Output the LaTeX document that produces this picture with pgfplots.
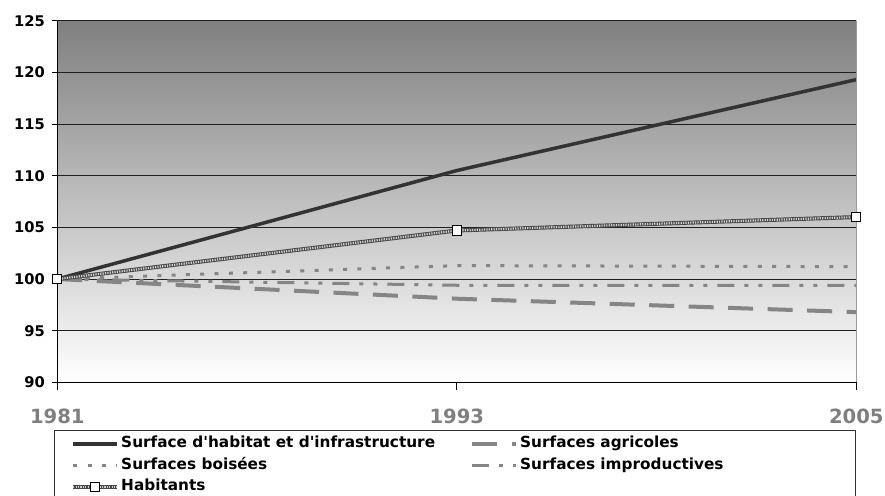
\documentclass[border=0pt]{standalone}
\usepackage{fontspec}
\setmainfont{DejaVu Sans}[Ligatures=TeXOff]
\usepackage{pgfplots}
\pgfplotsset{compat=1.18}

\definecolor{lineDark}{HTML}{333333}
\definecolor{lineGray}{HTML}{858585}
\definecolor{tickGray}{HTML}{7F7F7F}

\tikzset{
  habline/.style={black!72, line width=4bp,
    postaction={draw, gray!35, line width=2.2bp, dash pattern=on 1.2bp off 1.2bp}},
  habmark/.style={mark=square*, mark size=4.6bp,
    mark options={solid, fill=white, draw=black, line width=0.9bp}},
}

\begin{document}
\begin{tikzpicture}
\begin{axis}[
  at={(0,0)}, anchor=south west,
  scale only axis, width=799bp, height=361.7bp,
  xmin=1981, xmax=2005, ymin=90, ymax=125,
  xtick={1981,1993,2005}, xticklabels={1981,1993,2005},
  ytick={90,95,...,125},
  axis x line*=bottom, axis y line*=left,
  axis line style={black, line width=1bp},
  tick align=outside,
  major tick length=5bp,
  xtick style={black, line width=0.9bp, /pgfplots/major tick length=8bp},
  ytick style={black, line width=0.9bp},
  ymajorgrids,
  major grid style={black!88, line width=0.9bp},
  axis background/.style={shade, top color=black!50, bottom color=white},
  /pgf/number format/assume math mode=true,
  yticklabel style={font=\bfseries\fontsize{14.7bp}{16bp}\selectfont, xshift=-4bp},
  xticklabel style={font=\bfseries\fontsize{19.6bp}{22bp}\selectfont, text=tickGray, yshift=-18bp},
  clip=false,
  legend columns=2,
  legend cell align=left,
  legend image code/.code={\draw[mark repeat=2,mark phase=2,#1] plot coordinates {(0bp,0bp) (22bp,0bp) (44bp,0bp)};},
  legend style={draw=none, fill=none, inner sep=0pt,
    at={(axis description cs:0.0172,-0.1399)}, anchor=north west,
    font=\bfseries\fontsize{15.3bp}{18bp}\selectfont,
    nodes={inner xsep=2bp, inner ysep=3.25bp, text height=11.5bp, text depth=3.5bp},
    /tikz/every even column/.append style={column sep=33bp}},
]
% land use indices, 1981 = 100
\addplot[lineDark, line width=3.5bp] coordinates {(1981,100) (1993,110.5) (2005,119.3)};
\addlegendentry{Surface d'habitat et d'infrastructure}
\addplot[lineGray, line width=4bp, dash pattern=on 25bp off 14.5bp] coordinates {(1981,100) (1993,98.1) (2005,96.8)};
\addlegendentry{Surfaces agricoles}
\addplot[lineGray, line width=3bp, dash pattern=on 4bp off 10.3bp] coordinates {(1981,100) (1993,101.3) (2005,101.2)};
\addlegendentry{Surfaces boisées}
\addplot[lineGray, line width=3bp, dash pattern=on 17bp off 10bp on 4bp off 10bp on 4bp off 10bp] coordinates {(1981,100) (1993,99.4) (2005,99.4)};
\addlegendentry{Surfaces improductives}
% population index
\addplot[habline, forget plot] coordinates {(1981,100) (1993,104.7) (2005,106.0)};
\addplot[only marks, habmark, forget plot] coordinates {(1981,100) (1993,104.7) (2005,106.0)};
\addlegendimage{legend image code/.code={
  \draw[habline] (0bp,0bp) -- (44bp,0bp);
  \draw[habmark] plot coordinates {(22bp,0bp)};}}
\addlegendentry{Habitants}
% right border of the plot area
\draw[black!40, line width=1.5bp] (rel axis cs:1,0) -- (rel axis cs:1,1);
\end{axis}
% legend frame
\draw[black!80, line width=1bp] (-2.3bp,-130bp) -- (-2.3bp,-47.6bp) -- (797.7bp,-47.6bp) -- (797.7bp,-130bp);
\pgfresetboundingbox
\useasboundingbox (-57.3bp,-113.6bp) rectangle (827.7bp,382.4bp);
\end{tikzpicture}
\end{document}
